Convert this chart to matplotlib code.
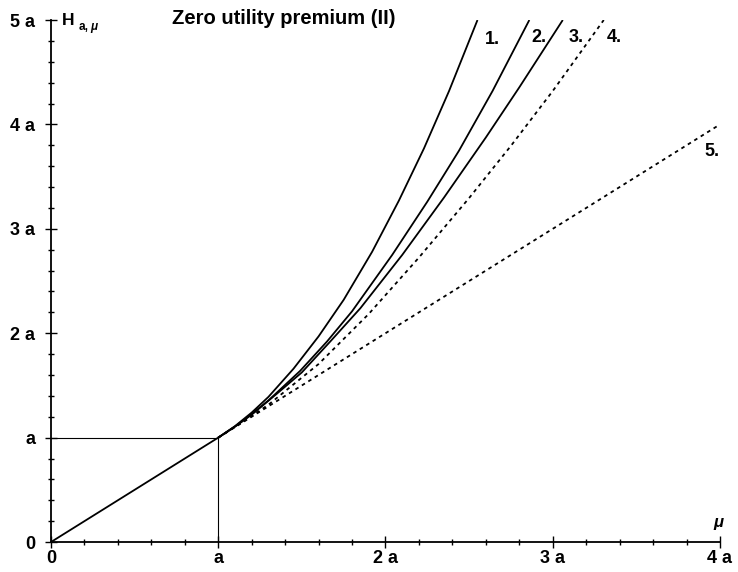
import matplotlib
matplotlib.use("Agg")
import matplotlib.pyplot as plt
from matplotlib.ticker import MultipleLocator

plt.rcParams['font.family'] = ['Liberation Sans', 'DejaVu Sans']

# values in units of a
base_mu = [0.0, 1.0]
base_h = [0.0, 1.0]

curve1_mu = [1.0, 1.1, 1.2, 1.3, 1.45, 1.6, 1.75, 1.92, 2.08, 2.23, 2.38, 2.55]
curve1_h = [1.0, 1.11, 1.24, 1.39, 1.66, 1.97, 2.32, 2.78, 3.27, 3.77, 4.32, 5.0]

curve2_mu = [1.0, 1.1, 1.2, 1.3, 1.49, 1.65, 1.8, 2.04, 2.25, 2.44, 2.64, 2.86]
curve2_h = [1.0, 1.106, 1.225, 1.356, 1.64, 1.92, 2.21, 2.75, 3.26, 3.75, 4.32, 5.0]

curve3_mu = [1.0, 1.1, 1.2, 1.35, 1.5, 1.675, 1.85, 2.1, 2.35, 2.6, 2.8, 3.06]
curve3_h = [1.0, 1.105, 1.22, 1.42, 1.625, 1.93, 2.24, 2.75, 3.30, 3.875, 4.355, 5.0]

curve4_mu = [1.0, 1.15, 1.3, 1.45, 1.6, 1.9, 2.2, 2.5, 2.75, 3.0, 3.305]
curve4_h = [1.0, 1.155, 1.315, 1.51, 1.705, 2.185, 2.725, 3.295, 3.795, 4.32, 5.0]

curve5_mu = [1.0, 4.0]
curve5_h = [1.0, 4.0]

label_text = ['1.', '2.', '3.', '4.', '5.']
label_mu = [2.64, 2.92, 3.14, 3.37, 3.95]
label_h = [4.81, 4.83, 4.83, 4.83, 3.74]

tick_vals = [0, 1, 2, 3, 4, 5]
tick_text = ['0', 'a', '2 a', '3 a', '4 a', '5 a']

fig = plt.figure(figsize=(7.38, 5.72), dpi=100)
ax = fig.add_axes([0.0691, 0.0524, 0.9065, 0.9126])
ax.set_xlim(0, 4)
ax.set_ylim(0, 5)

for s in ('top', 'right'):
    ax.spines[s].set_visible(False)
for s in ('left', 'bottom'):
    ax.spines[s].set_linewidth(1.3)

ax.set_xticks(tick_vals[:5])
ax.set_xticklabels(tick_text[:5])
ax.set_yticks(tick_vals)
ax.set_yticklabels(tick_text)
ax.xaxis.set_minor_locator(MultipleLocator(0.2))
ax.yaxis.set_minor_locator(MultipleLocator(0.2))
ax.tick_params(which='major', direction='inout', length=9, width=1.0,
               labelsize=13)
ax.tick_params(axis='y', which='major', pad=7)
ax.tick_params(axis='x', which='major', pad=1.5)
ax.tick_params(which='minor', direction='inout', length=5, width=1.0)
for lab in ax.get_xticklabels() + ax.get_yticklabels():
    lab.set_fontweight('bold')

# guide lines to (a, a)
ax.plot([0, 1], [1, 1], color='k', lw=0.8)
ax.plot([1, 1], [0, 1], color='k', lw=0.8)

solid = dict(color='k', lw=1.3, solid_capstyle='butt', solid_joinstyle='round')
dotted = dict(color='k', lw=1.3, linestyle=(0, (2.0, 2.2)))
ax.plot(base_mu, base_h, **solid)
ax.plot(curve1_mu, curve1_h, **solid)
ax.plot(curve2_mu, curve2_h, **solid)
ax.plot(curve3_mu, curve3_h, **solid)
ax.plot(curve4_mu, curve4_h, **dotted)
ax.plot(curve5_mu, curve5_h, **dotted)

for t, m, h in zip(label_text, label_mu, label_h):
    ax.text(m, h, t, fontsize=13, fontweight='bold', ha='center', va='center')

ax.text(0.065, 5.0, 'H', fontsize=12.5, fontweight='bold', ha='left', va='center')
ax.text(0.165, 4.93, 'a,', fontsize=8.5, fontweight='bold', ha='left', va='center')
ax.text(0.235, 4.93, 'μ', fontsize=8.5, fontweight='bold', style='italic',
        ha='left', va='center')
ax.text(3.99, 0.19, 'μ', fontsize=12, fontweight='bold', style='italic',
        ha='center', va='center')

fig.text(0.233, 0.967, 'Zero utility premium (II)', fontsize=14.5,
         fontweight='bold', ha='left', va='center')

fig.savefig('out.png', dpi=100)
